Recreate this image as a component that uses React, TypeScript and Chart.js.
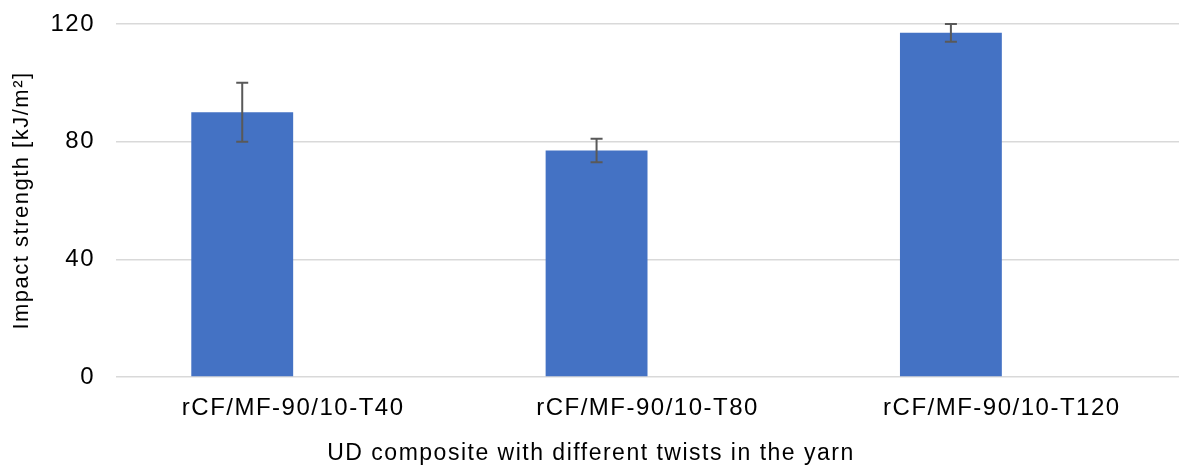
import React, { useEffect, useRef } from "react";
import { Chart, registerables } from "chart.js";

Chart.register(...registerables);

const categories: string[] = ["rCF/MF-90/10-T40", "rCF/MF-90/10-T80", "rCF/MF-90/10-T120"];
const impactValues: number[] = [90, 77, 117];
const impactErrors: number[] = [10, 4, 3];
const emptySeries: (number | null)[] = [null, null, null];
const yTicks: number[] = [0, 40, 80, 120];

const FONT_FAMILY = "'Liberation Sans', Arial, Helvetica, sans-serif";
const LETTER_SPACING = "1.5px";

const letterSpacingPlugin = {
  id: "letterSpacing",
  beforeUpdate(chart: any) {
    (chart.ctx as any).letterSpacing = LETTER_SPACING;
  },
  beforeDraw(chart: any) {
    (chart.ctx as any).letterSpacing = LETTER_SPACING;
  },
};

const errorBarPlugin = {
  id: "errorBars",
  afterDatasetsDraw(chart: any) {
    const meta = chart.getDatasetMeta(0);
    const yScale = chart.scales.y;
    const ctx = chart.ctx as CanvasRenderingContext2D;
    ctx.save();
    ctx.strokeStyle = "#595959";
    ctx.lineWidth = 2;
    meta.data.forEach((bar: any, i: number) => {
      const v = impactValues[i];
      const e = impactErrors[i];
      const x = bar.x;
      const yTop = yScale.getPixelForValue(v + e);
      const yBot = yScale.getPixelForValue(v - e);
      ctx.beginPath();
      ctx.moveTo(x, yTop);
      ctx.lineTo(x, yBot);
      ctx.moveTo(x - 6, yTop);
      ctx.lineTo(x + 6, yTop);
      ctx.moveTo(x - 6, yBot);
      ctx.lineTo(x + 6, yBot);
      ctx.stroke();
    });
    ctx.restore();
  },
};

export default function App() {
  const canvasRef = useRef<HTMLCanvasElement | null>(null);

  useEffect(() => {
    document.body.style.margin = "0";
    const canvas = canvasRef.current;
    if (!canvas) return;
    const chart = new Chart(canvas, {
      type: "bar",
      data: {
        labels: categories,
        datasets: [
          {
            label: "Impact strength",
            data: impactValues,
            backgroundColor: "#4472C4",
            borderWidth: 0,
          },
          {
            label: "",
            data: emptySeries,
            backgroundColor: "#ED7D31",
            borderWidth: 0,
          },
        ],
      },
      options: {
        responsive: false,
        animation: false,
        devicePixelRatio: 1,
        layout: { padding: { top: 24, right: -3, left: 0, bottom: 0 } },
        datasets: {
          bar: { categoryPercentage: 0.575, barPercentage: 1 },
        },
        plugins: {
          legend: { display: false },
          tooltip: { enabled: false },
          title: {
            display: true,
            position: "bottom",
            text: "UD composite with different twists in the yarn",
            color: "#000000",
            font: { family: FONT_FAMILY, size: 23, weight: "normal" },
            padding: { top: 0, bottom: 0 },
          },
        },
        scales: {
          x: {
            grid: { display: false, drawTicks: false },
            border: { display: false },
            ticks: {
              color: "#000000",
              font: { family: FONT_FAMILY, size: 24 },
              padding: 17,
              maxRotation: 0,
              autoSkip: false,
            },
            afterFit: (scale: any) => {
              scale.height = 62.4;
              scale.paddingLeft = 0;
              scale.paddingRight = 0;
            },
          },
          y: {
            min: 0,
            max: 120,
            afterBuildTicks: (scale: any) => {
              scale.ticks = yTicks.map((v) => ({ value: v }));
            },
            grid: { color: "#D9D9D9", lineWidth: 1.5, drawTicks: false },
            border: { display: false },
            ticks: {
              color: "#000000",
              font: { family: FONT_FAMILY, size: 24 },
              padding: 21,
            },
            title: {
              display: true,
              text: "Impact strength [kJ/m²]",
              color: "#000000",
              font: { family: FONT_FAMILY, size: 22 },
              padding: { top: 9, bottom: 0 },
            },
            afterFit: (scale: any) => {
              scale.width = 116;
              scale.paddingTop = 0;
              scale.paddingBottom = 0;
            },
          },
        },
      },
      plugins: [letterSpacingPlugin, errorBarPlugin],
    });
    return () => chart.destroy();
  }, []);

  return (
    <div style={{ width: 1179, height: 467 }}>
      <canvas ref={canvasRef} width={1179} height={467} style={{ display: "block" }} />
    </div>
  );
}
